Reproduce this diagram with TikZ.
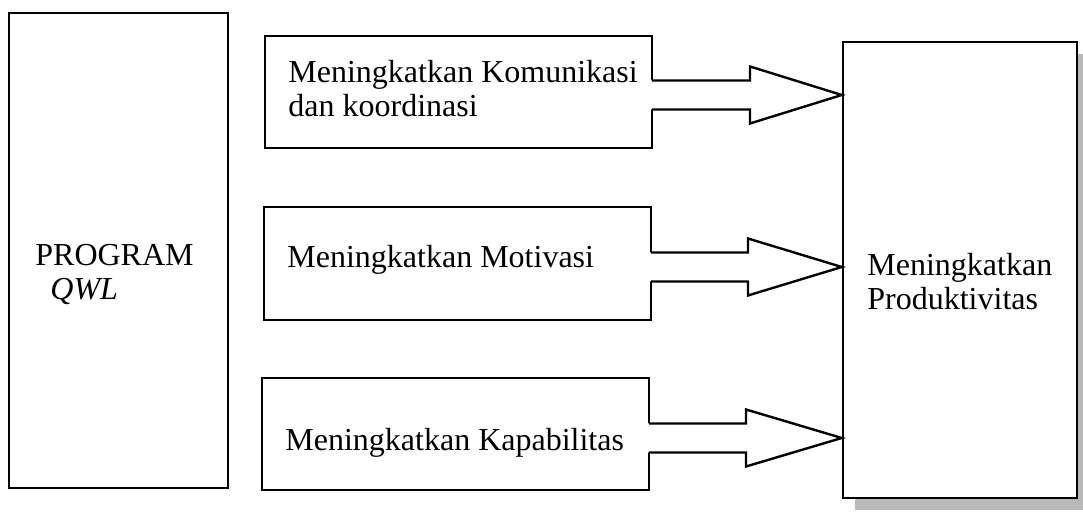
\documentclass[tikz,border=0pt]{standalone}
\usepackage{fontspec}
\setmainfont{Liberation Serif}
\usetikzlibrary{calc}
\tikzset{
  box/.style={draw=black, line width=1.2pt, fill=white, inner sep=0pt},
  lbl/.style={anchor=base west, inner sep=0pt, align=left, font=\fontsize{16}{17}\selectfont},
  arrowline/.style={draw=black, line width=1.2pt, line join=miter},
  shadow/.style={fill=gray!55}
}
\newcommand{\barrow}[3]{% #1 box node, #2 centre y (px), #3 head start x (px)
  \coordinate (st) at (#3,#2-14.5);
  \coordinate (sb) at (#3,#2+14.5);
  \coordinate (ht) at (#3,#2-28.5);
  \coordinate (hb) at (#3,#2+28.5);
  \coordinate (ty) at (0,#2);
  \fill[white] ($(#1.east |- st)+(-2,0)$) -- (st) -- (ht) -- (pr.west |- ty) -- (hb) -- (sb) -- ($(#1.east |- sb)+(-2,0)$) -- cycle;
  \draw[arrowline] ($(#1.east |- st)+(0,-1)$) -- (#1.east |- st) -- (st) -- (ht) -- (pr.west |- ty) -- (hb) -- (sb) -- (#1.east |- sb) -- ($(#1.east |- sb)+(0,1)$);
}
\begin{document}
\begin{tikzpicture}[x=0.5pt, y=-0.5pt]
\useasboundingbox (0,0) rectangle (1083,512);
\fill[white] (0,0) rectangle (1083,512);

% left box
\node[box, minimum width=219*0.5pt, minimum height=475*0.5pt] (pq) at (118.5,250.5) {};
\node[lbl] (tpq) at (35,300) {PROGRAM\\\hspace*{7.5pt}\textit{QWL}};

% right box with shadow
\fill[shadow] (855,54) rectangle (1089,510);
\node[box, minimum width=234*0.5pt, minimum height=456*0.5pt] (pr) at (960,270) {};
\node[lbl] (tpr) at (867,310) {Meningkatkan\\Produktivitas};

% middle boxes
\node[box, minimum width=387*0.5pt, minimum height=112*0.5pt] (b1) at (458.5,92) {};
\node[lbl] (t1) at (288,117) {Meningkatkan Komunikasi\\dan koordinasi};

\node[box, minimum width=387*0.5pt, minimum height=113*0.5pt] (b2) at (457.5,263.5) {};
\node[lbl] (t2) at (287,268) {Meningkatkan Motivasi};

\node[box, minimum width=387*0.5pt, minimum height=112*0.5pt] (b3) at (455.5,434) {};
\node[lbl] (t3) at (285,451) {Meningkatkan Kapabilitas};

% block arrows
\barrow{b1}{95}{750}
\barrow{b2}{267}{748}
\barrow{b3}{438}{746}
\end{tikzpicture}
\end{document}
